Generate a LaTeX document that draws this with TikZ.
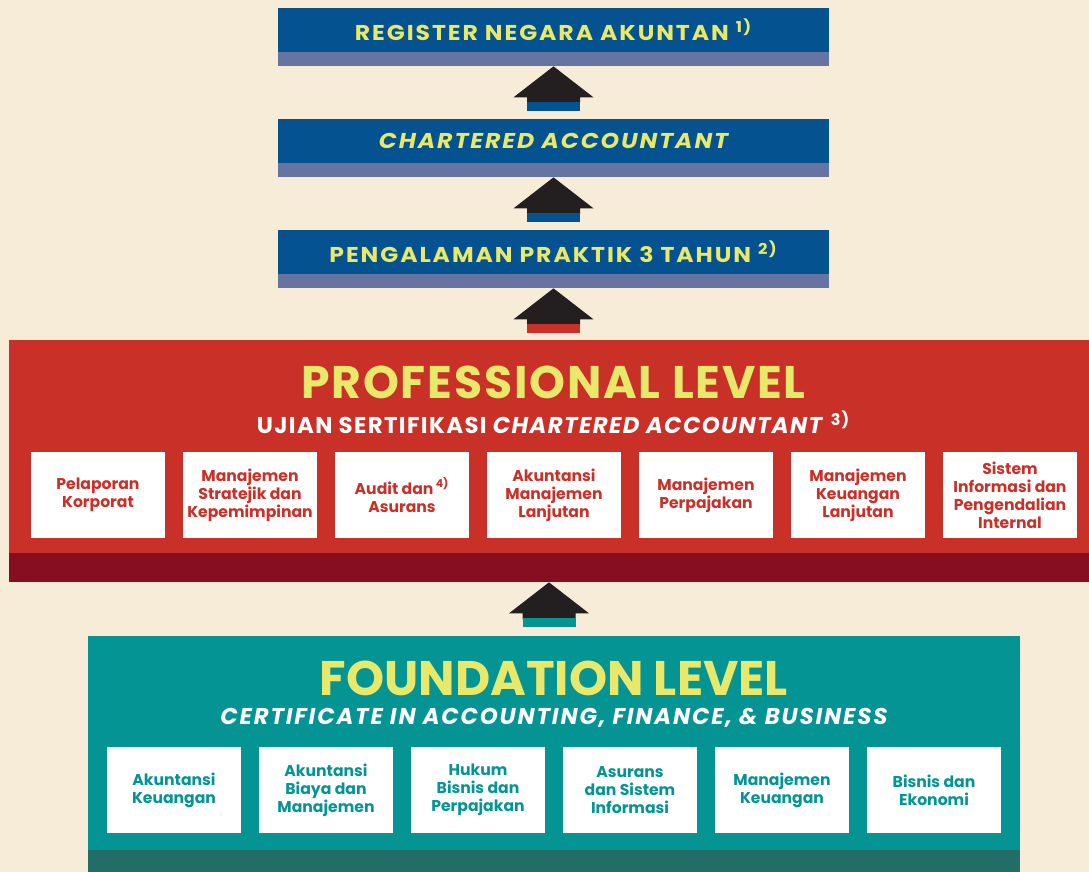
\documentclass[tikz,border=0pt]{standalone}
\usepackage{fontspec}
\setmainfont{Poppins}
\usetikzlibrary{positioning}

\definecolor{bgcream}{HTML}{F7ECD7}
\definecolor{ktblue}{HTML}{04528F}
\definecolor{ktgrey}{HTML}{6574A0}
\definecolor{ktyellow}{HTML}{E8E86A}
\definecolor{ktred}{HTML}{C93128}
\definecolor{ktdarkred}{HTML}{870E20}
\definecolor{ktteal}{HTML}{059494}
\definecolor{ktdarkteal}{HTML}{226E67}
\definecolor{ktblack}{HTML}{231F20}

\tikzset{
  stepbox/.style={fill=ktblue, text=ktyellow, inner sep=0pt,
    minimum width=11.02cm, minimum height=0.88cm,
    font=\bfseries\fontsize{12.2}{14}\selectfont\addfontfeature{FakeStretch=1.1,LetterSpace=9}},
  stepstrip/.style={fill=ktgrey, inner sep=0pt, minimum width=11.02cm, minimum height=0.28cm},
  subject/.style={fill=white, inner sep=0pt, align=center,
    minimum width=2.68cm, minimum height=1.72cm,
    font=\bfseries\fontsize{8.9}{10.2}\selectfont},
  uparr/.pic={
    \fill[ktblack] (0,0) -- (40,31) -- (26.5,31) -- (26.5,37)
      -- (-26.5,37) -- (-26.5,31) -- (-40,31) -- cycle;
    \fill[#1] (-26.5,36) rectangle (26.5,45);
  }
}

\begin{document}
\begin{tikzpicture}[x=0.02cm,y=-0.02cm]
	\fill[bgcream] (0,0) rectangle (1089,872);
	\useasboundingbox (0,0) rectangle (1089,872);

	% jenjang atas
	\node[stepbox] at (553.5,30) (reg) {REGISTER NEGARA AKUNTAN \textsuperscript{1)}};
	\node[stepstrip, below=-0.4pt of reg] (regstrip) {};
	\node[stepbox] at (553.5,141) (ca) {\itshape CHARTERED ACCOUNTANT};
	\node[stepstrip, below=-0.4pt of ca] (castrip) {};
	\node[stepbox] at (553.5,252) (prak) {PENGALAMAN PRAKTIK 3 TAHUN \textsuperscript{2)}};
	\node[stepstrip, below=-0.4pt of prak] (prakstrip) {};

	% professional level
	\node[fill=ktred, inner sep=0pt, minimum width=21.6cm, minimum height=4.26cm] at (549,446.5) (prof) {};
	\node[fill=ktdarkred, inner sep=0pt, minimum width=21.6cm, minimum height=0.58cm, below=-0.4pt of prof] (profstrip) {};
	\node[text=ktyellow, font=\bfseries\fontsize{26}{30}\selectfont\addfontfeature{LetterSpace=4}] at (553.5,382) (proftitle) {PROFESSIONAL LEVEL};
	\node[text=white, font=\bfseries\fontsize{13}{15}\selectfont\addfontfeature{LetterSpace=6}] at (553.5,422) (profsub) {UJIAN SERTIFIKASI \textit{CHARTERED ACCOUNTANT} \textsuperscript{3)}};
	\foreach \name/\txt [count=\i from 0] in {
	    pel/{Pelaporan\\Korporat},
	    msk/{Manajemen\\Stratejik dan\\Kepemimpinan},
	    aud/{Audit dan\textsuperscript{ 4)}\\Asurans},
	    aml/{Akuntansi\\Manajemen\\Lanjutan},
	    mpj/{Manajemen\\Perpajakan},
	    mkl/{Manajemen\\Keuangan\\Lanjutan},
	    sip/{Sistem\\Informasi dan\\Pengendalian\\Internal}}
	  \node[subject, text=ktred] at (98+152*\i,495) (\name) {\txt};

	% foundation level
	\node[fill=ktteal, inner sep=0pt, minimum width=18.64cm, minimum height=4.28cm] at (554,743) (fnd) {};
	\node[fill=ktdarkteal, inner sep=0pt, minimum width=18.64cm, minimum height=0.44cm, below=-0.4pt of fnd] (fndstrip) {};
	\node[text=ktyellow, font=\bfseries\fontsize{27.6}{32}\selectfont] at (554,678) (fndtitle) {FOUNDATION LEVEL};
	\node[text=white, font=\bfseries\itshape\fontsize{13}{15}\selectfont\addfontfeature{LetterSpace=8}] at (554,718) (fndsub) {CERTIFICATE IN ACCOUNTING, FINANCE, \& BUSINESS};
	\foreach \name/\txt [count=\i from 0] in {
	    aku/{Akuntansi\\Keuangan},
	    abm/{Akuntansi\\Biaya dan\\Manajemen},
	    hbp/{Hukum\\Bisnis dan\\Perpajakan},
	    asi/{Asurans\\dan Sistem\\Informasi},
	    mku/{Manajemen\\Keuangan},
	    bde/{Bisnis dan\\Ekonomi}}
	  \node[subject, text=ktteal] at (174+152*\i,790) (\name) {\txt};

	% panah naik
	\pic at (regstrip.south) {uparr=ktblue};
	\pic at (castrip.south) {uparr=ktblue};
	\pic at (prakstrip.south) {uparr=ktred};
	\pic at (profstrip.south) {uparr=ktteal};
\end{tikzpicture}
\end{document}
